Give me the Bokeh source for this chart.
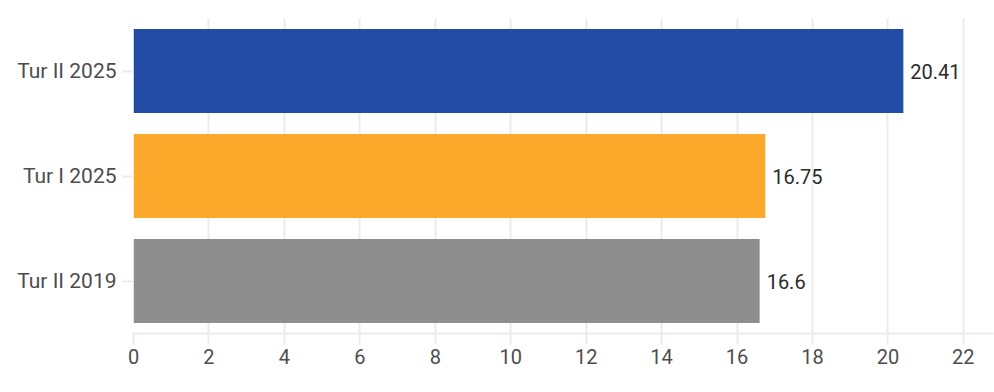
from bokeh.plotting import figure
from bokeh.models import ColumnDataSource, Range1d, FactorRange, SingleIntervalTicker
from bokeh.core.properties import value
from bokeh.embed import file_html
from bokeh.resources import INLINE

categories = ["Tur II 2019", "Tur I 2025", "Tur II 2025"]
values = [16.6, 16.75, 20.41]
labels = ["16.6", "16.75", "20.41"]
colors = ["#8e8e8e", "#fca82a", "#224ba6"]

source = ColumnDataSource(dict(cat=categories, val=values, lab=labels, col=colors))

FONT = "Roboto"
GRID = "#ebebeb"

p = figure(width=994, height=378, output_backend="svg", toolbar_location=None,
           y_range=FactorRange(*categories, range_padding=0),
           x_range=Range1d(0, 22.8),
           min_border_left=133, min_border_right=1, min_border_top=18, min_border_bottom=45)
p.outline_line_color = None
p.background_fill_color = "white"

p.hbar(y="cat", right="val", left=0, height=0.8, fill_color="col", line_color=None, source=source)
p.text(x="val", y="cat", text="lab", source=source, x_offset=7,
       text_baseline="middle", text_align="left",
       text_font=value(FONT), text_font_size="20px", text_color="#2b2b2b")

p.xaxis.ticker = SingleIntervalTicker(interval=2)
p.xgrid.ticker = SingleIntervalTicker(interval=2)
p.xgrid.grid_line_color = GRID
p.xgrid.grid_line_width = 2
p.ygrid.grid_line_color = None

for ax in (p.xaxis, p.yaxis):
    ax.axis_line_color = GRID
    ax.axis_line_width = 2
    ax.major_tick_line_color = GRID
    ax.major_tick_line_width = 2
    ax.major_tick_out = 11
    ax.major_tick_in = 0
    ax.minor_tick_line_color = None
    ax.major_label_text_font = FONT
    ax.major_label_text_color = "#4d4d4d"

p.yaxis.axis_line_color = None
p.xaxis.major_label_text_font_size = "20px"
p.yaxis.major_label_text_font_size = "21px"
p.xaxis.major_label_standoff = 4
p.yaxis.major_label_standoff = 6

open("out.html", "w").write(file_html(p, INLINE))
